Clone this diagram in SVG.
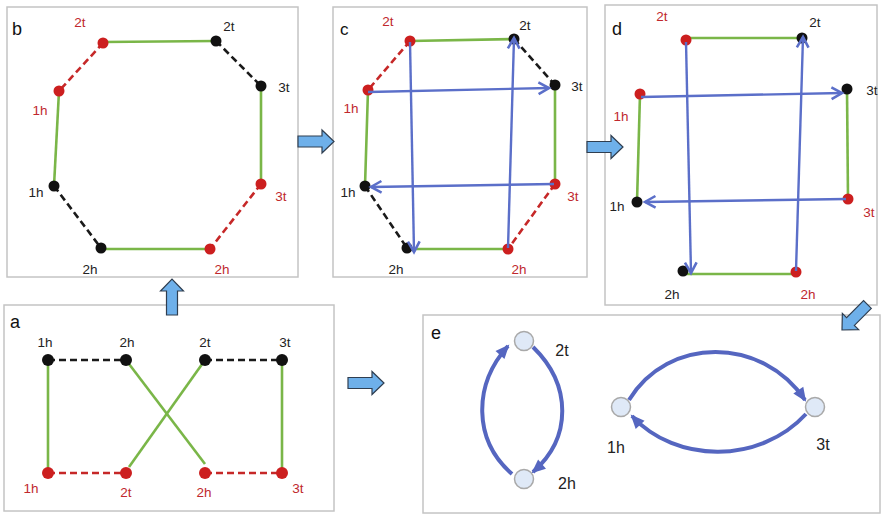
<svg xmlns="http://www.w3.org/2000/svg" width="881" height="515" viewBox="0 0 881 515">
<defs>
<style>
.box{fill:#fff;stroke:#c4c4c4;stroke-width:1.5}
.g{stroke:#7ab648;stroke-width:2.6;fill:none}
.rd{stroke:#c62828;stroke-width:2.6;stroke-dasharray:7 4;fill:none}
.kd{stroke:#1a1a1a;stroke-width:2.6;stroke-dasharray:7 4;fill:none}
.rn{fill:#cc1f1f}
.kn{fill:#111}
.bl{stroke:#5b6fc9;stroke-width:2.4;fill:none;marker-end:url(#chev)}
.arc{stroke:#5566c0;stroke-width:4;fill:none;marker-end:url(#tri)}
.en{fill:#dfe9f7;stroke:#a9a9a9;stroke-width:1.5}
.bar{fill:#6eb0ea;stroke:#2f3e50;stroke-width:1.2}
text{font-family:"Liberation Sans",Arial,sans-serif;font-size:13.5px;text-anchor:middle}
.rt{fill:#c0282d}
.kt{fill:#222}
.et{fill:#222;font-size:16px}
.pl{font-size:18px;fill:#111;text-anchor:start}
</style>
<marker id="chev" markerUnits="userSpaceOnUse" markerWidth="14" markerHeight="14" viewBox="0 0 12 12" refX="10" refY="6" orient="auto" overflow="visible">
<path d="M1,1 L10,6 L1,11" fill="none" stroke="#5b6fc9" stroke-width="2.2"/>
</marker>
<marker id="tri" markerUnits="userSpaceOnUse" markerWidth="14" markerHeight="12" viewBox="0 0 14 12" refX="12" refY="6" orient="auto" overflow="visible">
<path d="M0,0 L14,6 L0,12 Z" fill="#5566c0"/>
</marker>
<path id="barrow" d="M-36,-5.5 H-12 V-11.5 L0,0 L-12,11.5 V5.5 H-36 Z"/>
</defs>

<!-- Panel b -->
<g id="panel-b">
<rect class="box" x="7" y="7" width="291" height="270"/>
<text class="pl" x="12" y="35">b</text>
</g>
<g id="b-edges">
<line class="g" x1="103" y1="42" x2="216" y2="41"/>
<line class="g" x1="59" y1="91" x2="54" y2="186"/>
<line class="g" x1="261" y1="86" x2="261" y2="184"/>
<line class="g" x1="101" y1="249" x2="210" y2="249"/>
<line class="rd" x1="103" y1="43" x2="59" y2="91"/>
<line class="rd" x1="261" y1="184" x2="210" y2="249"/>
<line class="kd" x1="216" y1="41" x2="261" y2="86"/>
<line class="kd" x1="54" y1="186" x2="101" y2="248"/>
</g>
<g id="b-nodes">
<g id="b-2t-r"><circle class="rn" cx="103" cy="43" r="5.5"/><text class="rt" x="80" y="27">2t</text></g>
<g id="b-2t-k"><circle class="kn" cx="216" cy="41" r="5.5"/><text class="kt" x="229" y="31">2t</text></g>
<g id="b-3t-k"><circle class="kn" cx="261" cy="86" r="5.5"/><text class="kt" x="284" y="92">3t</text></g>
<g id="b-1h-r"><circle class="rn" cx="59" cy="91" r="5.5"/><text class="rt" x="40" y="115">1h</text></g>
<g id="b-1h-k"><circle class="kn" cx="54" cy="186" r="5.5"/><text class="kt" x="36" y="197">1h</text></g>
<g id="b-3t-r"><circle class="rn" cx="261" cy="184" r="5.5"/><text class="rt" x="281" y="201">3t</text></g>
<g id="b-2h-k"><circle class="kn" cx="101" cy="248" r="5.5"/><text class="kt" x="90" y="274">2h</text></g>
<g id="b-2h-r"><circle class="rn" cx="210" cy="249" r="5.5"/><text class="rt" x="222" y="274">2h</text></g>
</g>

<!-- Panel c -->
<g id="panel-c">
<rect class="box" x="333" y="7" width="254" height="270"/>
<text class="pl" x="340" y="35" style="font-size:17px">c</text>
</g>
<g id="c-edges">
<line class="g" x1="410" y1="41" x2="514" y2="39"/>
<line class="g" x1="368" y1="90" x2="365" y2="186"/>
<line class="g" x1="555" y1="85" x2="555" y2="184"/>
<line class="g" x1="407" y1="249" x2="508" y2="249"/>
<line class="rd" x1="410" y1="41" x2="368" y2="90"/>
<line class="rd" x1="555" y1="184" x2="508" y2="249"/>
<line class="kd" x1="514" y1="39" x2="555" y2="85"/>
<line class="kd" x1="365" y1="186" x2="407" y2="248"/>
</g>
<g id="c-nodes">
<g id="c-2t-r"><circle class="rn" cx="410" cy="41" r="5.5"/><text class="rt" x="388" y="26">2t</text></g>
<g id="c-2t-k"><circle class="kn" cx="514" cy="39" r="5.5"/><text class="kt" x="525" y="30">2t</text></g>
<g id="c-3t-k"><circle class="kn" cx="555" cy="85" r="5.5"/><text class="kt" x="577" y="91">3t</text></g>
<g id="c-1h-r"><circle class="rn" cx="368" cy="90" r="5.5"/><text class="rt" x="351" y="113">1h</text></g>
<g id="c-1h-k"><circle class="kn" cx="365" cy="186" r="5.5"/><text class="kt" x="348" y="197">1h</text></g>
<g id="c-3t-r"><circle class="rn" cx="555" cy="184" r="5.5"/><text class="rt" x="573" y="201">3t</text></g>
<g id="c-2h-k"><circle class="kn" cx="407" cy="248" r="5.5"/><text class="kt" x="396" y="274">2h</text></g>
<g id="c-2h-r"><circle class="rn" cx="508" cy="249" r="5.5"/><text class="rt" x="519" y="274">2h</text></g>
</g>
<g id="c-arrows">
<line class="bl" x1="410" y1="42" x2="414" y2="252"/>
<line class="bl" x1="508" y1="248" x2="514" y2="38"/>
<line class="bl" x1="368" y1="92" x2="549" y2="88"/>
<line class="bl" x1="554" y1="184" x2="371" y2="187"/>
</g>

<!-- Panel d -->
<g id="panel-d">
<rect class="box" x="605" y="5" width="272" height="300"/>
<text class="pl" x="612" y="35">d</text>
</g>
<g id="d-edges">
<line class="g" x1="686" y1="38" x2="802" y2="38"/>
<line class="g" x1="640" y1="94" x2="637" y2="202"/>
<line class="g" x1="847" y1="89" x2="848" y2="199"/>
<line class="g" x1="683" y1="274" x2="796" y2="274"/>
</g>
<g id="d-nodes">
<g id="d-2t-r"><circle class="rn" cx="686" cy="40" r="5.5"/><text class="rt" x="662" y="21">2t</text></g>
<g id="d-2t-k"><circle class="kn" cx="802" cy="38" r="5.5"/><text class="kt" x="815" y="27">2t</text></g>
<g id="d-3t-k"><circle class="kn" cx="847" cy="89" r="5.5"/><text class="kt" x="872" y="95">3t</text></g>
<g id="d-1h-r"><circle class="rn" cx="640" cy="94" r="5.5"/><text class="rt" x="621" y="121">1h</text></g>
<g id="d-1h-k"><circle class="kn" cx="637" cy="202" r="5.5"/><text class="kt" x="617" y="211">1h</text></g>
<g id="d-3t-r"><circle class="rn" cx="848" cy="199" r="5.5"/><text class="rt" x="869" y="217">3t</text></g>
<g id="d-2h-k"><circle class="kn" cx="683" cy="271" r="5.5"/><text class="kt" x="672" y="299">2h</text></g>
<g id="d-2h-r"><circle class="rn" cx="796" cy="272" r="5.5"/><text class="rt" x="808" y="299">2h</text></g>
</g>
<g id="d-arrows">
<line class="bl" x1="686" y1="42" x2="691" y2="273"/>
<line class="bl" x1="796" y1="271" x2="803" y2="37"/>
<line class="bl" x1="641" y1="97" x2="842" y2="93"/>
<line class="bl" x1="846" y1="199" x2="645" y2="202"/>
</g>

<!-- Panel a -->
<g id="panel-a">
<rect class="box" x="4" y="305" width="330" height="206"/>
<text class="pl" x="10" y="328">a</text>
</g>
<g id="a-edges">
<line class="kd" x1="48" y1="360" x2="126" y2="360"/>
<line class="kd" x1="205" y1="360" x2="282" y2="360"/>
<line class="rd" x1="48" y1="473" x2="126" y2="473"/>
<line class="rd" x1="205" y1="473" x2="282" y2="473"/>
<line class="g" x1="48" y1="360" x2="48" y2="473"/>
<line class="g" x1="282" y1="360" x2="282" y2="473"/>
<line class="g" x1="126" y1="360" x2="205" y2="464"/>
<line class="g" x1="205" y1="360" x2="129" y2="467"/>
</g>
<g id="a-nodes">
<g id="a-1h-k"><circle class="kn" cx="48" cy="360" r="6"/><text class="kt" x="45" y="347">1h</text></g>
<g id="a-2h-k"><circle class="kn" cx="126" cy="360" r="6"/><text class="kt" x="127" y="347">2h</text></g>
<g id="a-2t-k"><circle class="kn" cx="205" cy="360" r="6"/><text class="kt" x="205" y="347">2t</text></g>
<g id="a-3t-k"><circle class="kn" cx="282" cy="360" r="6"/><text class="kt" x="285" y="347">3t</text></g>
<g id="a-1h-r"><circle class="rn" cx="48" cy="473" r="6"/><text class="rt" x="31" y="493">1h</text></g>
<g id="a-2t-r"><circle class="rn" cx="126" cy="473" r="6"/><text class="rt" x="126" y="497">2t</text></g>
<g id="a-2h-r"><circle class="rn" cx="205" cy="473" r="6"/><text class="rt" x="204" y="497">2h</text></g>
<g id="a-3t-r"><circle class="rn" cx="282" cy="473" r="6"/><text class="rt" x="298" y="493">3t</text></g>
</g>

<!-- Panel e -->
<g id="panel-e">
<rect class="box" x="423" y="315" width="457" height="198"/>
<text class="pl" x="431" y="339">e</text>
</g>
<g id="e-edges">
<path class="arc" d="M512 474 C473 440 473 385 508 346"/>
<path class="arc" d="M533 347 C572 385 572 438 533 472"/>
<path class="arc" d="M629 400 C668 336 762 336 805 400"/>
<path class="arc" d="M806 414 C760 464 676 464 632 416"/>
</g>
<g id="e-nodes">
<g id="e-2t"><circle class="en" cx="524" cy="341" r="9.5"/><text class="et" x="562" y="356">2t</text></g>
<g id="e-2h"><circle class="en" cx="524" cy="479" r="9.5"/><text class="et" x="567" y="489">2h</text></g>
<g id="e-1h"><circle class="en" cx="621" cy="407" r="9.5"/><text class="et" x="616" y="453">1h</text></g>
<g id="e-3t"><circle class="en" cx="815" cy="407" r="9.5"/><text class="et" x="823" y="450">3t</text></g>
</g>

<!-- Block arrows between panels -->
<g id="connectors">
<use href="#barrow" class="bar" transform="translate(334,141.5)"/>
<use href="#barrow" class="bar" transform="translate(623,147)"/>
<use href="#barrow" class="bar" transform="translate(384,383)"/>
<use href="#barrow" class="bar" transform="translate(172,279) rotate(-90)"/>
<use href="#barrow" class="bar" transform="translate(842,330) rotate(135)"/>
</g>
</svg>
